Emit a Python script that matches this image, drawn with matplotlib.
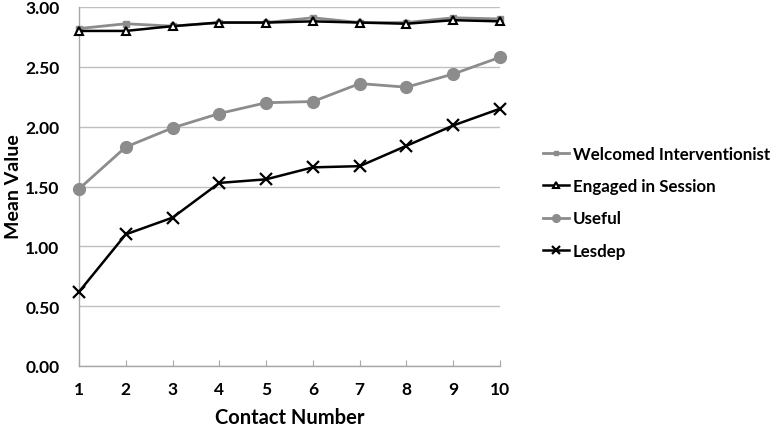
import matplotlib
matplotlib.use("Agg")
import matplotlib.pyplot as plt

contacts = [1, 2, 3, 4, 5, 6, 7, 8, 9, 10]
welcomed = [2.82, 2.86, 2.84, 2.87, 2.87, 2.91, 2.87, 2.87, 2.91, 2.90]
engaged = [2.80, 2.80, 2.84, 2.87, 2.87, 2.88, 2.87, 2.86, 2.89, 2.88]
useful = [1.48, 1.83, 1.99, 2.11, 2.20, 2.21, 2.36, 2.33, 2.44, 2.58]
lesdep = [0.62, 1.10, 1.24, 1.53, 1.56, 1.66, 1.67, 1.84, 2.01, 2.15]
yticks = [0.0, 0.5, 1.0, 1.5, 2.0, 2.5, 3.0]

plt.rcParams['font.family'] = ['Lato', 'DejaVu Sans']
plt.rcParams['font.weight'] = 'bold'

fig = plt.figure(figsize=(7.76, 4.31), dpi=100)
ax = fig.add_axes([79/776, 1-367/431, (500-79)/776, (367-8)/431])

ax.plot(contacts, welcomed, color='#8c8c8c', lw=2, marker='s', ms=5,
        label='Welcomed Interventionist', zorder=3, clip_on=False)
ax.plot(contacts, engaged, color='black', lw=1.8, marker='^', ms=6,
        mfc='white', mec='black', mew=1.5, label='Engaged in Session', zorder=4, clip_on=False)
ax.plot(contacts, useful, color='#8c8c8c', lw=2, marker='o', ms=8.5,
        label='Useful', zorder=3, clip_on=False)
ax.plot(contacts, lesdep, color='black', lw=1.8, marker='x', ms=9, mew=1.6,
        label='Lesdep', zorder=3, clip_on=False)

ax.set_xlim(1, 10)
ax.set_ylim(0, 3)
ax.set_xticks(contacts)
ax.set_yticks(yticks)
ax.set_yticklabels([f"{v:.2f}" for v in yticks])
ax.grid(axis='y', color='#c0c0c0', lw=1)
ax.set_axisbelow(True)
for s in ['top', 'right']:
    ax.spines[s].set_visible(False)
for s in ['left', 'bottom']:
    ax.spines[s].set_color('#a6a6a6')
    ax.spines[s].set_linewidth(1)
ax.tick_params(axis='y', length=0, pad=14, labelsize=12.5)
ax.tick_params(axis='x', direction='in', length=4, color='#a6a6a6', pad=11, labelsize=12.5)
for lab in ax.get_xticklabels() + ax.get_yticklabels():
    lab.set_fontweight('bold')

ax.set_xlabel('Contact Number', fontsize=14.5, fontweight='bold', labelpad=7)
fig.text(14/776, 1-187/431, 'Mean Value', rotation=90, ha='center', va='center',
         fontsize=14, fontweight='bold')

leg = fig.legend(loc='upper left', bbox_to_anchor=(528/776, 1-132/431),
                 frameon=False, fontsize=12.2, handlelength=1.5, handletextpad=0.25,
                 labelspacing=0.95, markerscale=0.65)
for t in leg.get_texts():
    t.set_fontweight('bold')

fig.savefig('out.png', dpi=100)
